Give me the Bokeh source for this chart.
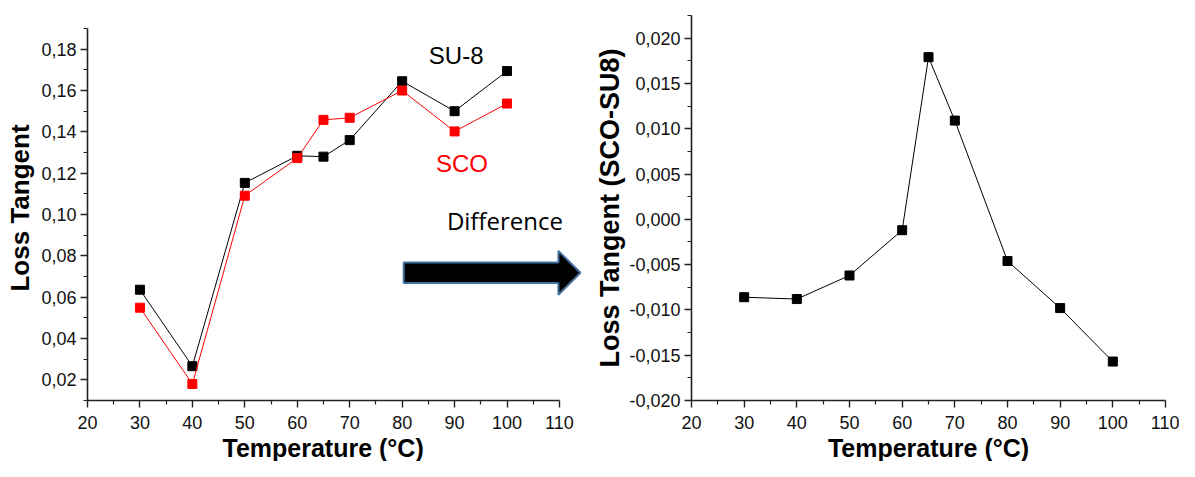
from bokeh.plotting import figure
from bokeh.layouts import row
from bokeh.models import Range1d, FixedTicker, CustomJSTickFormatter, Label, PolyAnnotation, Title
from bokeh.embed import file_html
from bokeh.resources import INLINE

# ---------------- data ----------------
temperature = [30, 40, 50, 60, 65, 70, 80, 90, 100]
su8_loss = [0.0636, 0.0266, 0.1153, 0.1284, 0.1280, 0.1360, 0.1645, 0.1500, 0.1694]
sco_loss = [0.0549, 0.0180, 0.1091, 0.1273, 0.1458, 0.1468, 0.1600, 0.1402, 0.1537]
diff_loss = [-0.0086, -0.0088, -0.0062, -0.0012, 0.0179, 0.0109, -0.0046, -0.0098, -0.0157]

x_ticks = [20, 30, 40, 50, 60, 70, 80, 90, 100, 110]
x_minor = [25, 35, 45, 55, 65, 75, 85, 95, 105]
left_y_ticks = [0.02, 0.04, 0.06, 0.08, 0.10, 0.12, 0.14, 0.16, 0.18]
left_y_minor = [0.01, 0.03, 0.05, 0.07, 0.09, 0.11, 0.13, 0.15, 0.17, 0.19]
right_y_ticks = [-0.020, -0.015, -0.010, -0.005, 0.000, 0.005, 0.010, 0.015, 0.020]
right_y_minor = [-0.0175, -0.0125, -0.0075, -0.0025, 0.0025, 0.0075, 0.0125, 0.0175, 0.0225]

x_label = "Temperature (°C)"
left_y_label = "Loss Tangent"
right_y_label = "Loss Tangent (SCO-SU8)"

FONT = "Liberation Sans"
AXIS_COLOR = "#222222"


def style(p, yticks, yminor, ydigits, ylabel_size):
    p.grid.visible = False
    p.outline_line_color = None
    p.background_fill_color = "white"
    p.border_fill_color = "white"
    p.xaxis.ticker = FixedTicker(ticks=x_ticks, minor_ticks=x_minor)
    p.yaxis.ticker = FixedTicker(ticks=yticks, minor_ticks=yminor)
    p.xaxis.formatter = CustomJSTickFormatter(code="return tick.toFixed(0);")
    p.yaxis.formatter = CustomJSTickFormatter(
        code="return tick.toFixed(%d).replace('.', ',');" % ydigits)
    for ax in (p.xaxis[0], p.yaxis[0]):
        ax.axis_line_color = AXIS_COLOR
        ax.axis_line_width = 1.6
        ax.major_tick_line_color = AXIS_COLOR
        ax.major_tick_line_width = 1.4
        ax.minor_tick_line_color = AXIS_COLOR
        ax.minor_tick_line_width = 1.2
        ax.major_tick_out = 7
        ax.major_tick_in = 0
        ax.minor_tick_out = 4
        ax.minor_tick_in = 0
        ax.major_label_text_font = FONT
        ax.major_label_text_font_size = "18px"
        ax.major_label_text_color = "#111111"
        ax.axis_label_text_font = FONT
        ax.axis_label_text_font_style = "bold"
        ax.axis_label_text_color = "black"
    p.xaxis.major_label_standoff = 8
    p.yaxis.major_label_standoff = 4
    p.yaxis.axis_label_text_font_size = ylabel_size


def bottom_title(p, align, offset):
    p.add_layout(Title(text=x_label, align=align, offset=offset, standoff=0,
                       text_font=FONT, text_font_size="25px", text_font_style="bold",
                       text_color="black"), "below")


# ---------------- left plot ----------------
# the frame reaches beyond the axes (axis bounds limit them) so that the
# arrow and captions, which sit between the two plots, can be drawn in it
p1 = figure(width=592, height=461, x_range=Range1d(20, 116.3), y_range=Range1d(0.01, 0.1963),
            output_backend="svg", toolbar_location=None,
            min_border_left=87, min_border_right=0, min_border_top=15, min_border_bottom=58,
            y_axis_label=left_y_label)
style(p1, left_y_ticks, left_y_minor, 2, "26px")
p1.yaxis.axis_label_standoff = 3
p1.xaxis.bounds = (20, 110)
p1.yaxis.bounds = (0.01, 0.19)
bottom_title(p1, "left", 135)

p1.line(temperature, su8_loss, line_color="black", line_width=1)
p1.scatter(temperature, su8_loss, marker="square", size=9, fill_color="black", line_color="black")
p1.line(temperature, sco_loss, line_color="#ff0000", line_width=1)
p1.scatter(temperature, sco_loss, marker="square", size=9, fill_color="#ff0000", line_color="#ff0000")

p1.add_layout(Label(x=90.3, y=0.1770, text="SU-8", text_align="center", text_baseline="alphabetic",
                    text_font=FONT, text_font_size="24px", text_color="black"))
p1.add_layout(Label(x=91.4, y=0.1248, text="SCO", text_align="center", text_baseline="alphabetic",
                    text_font=FONT, text_font_size="24px", text_color="#ff0000"))
p1.add_layout(Label(x=99.6, y=0.0973, text="Difference", text_align="center", text_baseline="alphabetic",
                    text_font="Open Sans", text_font_size="24px", text_color="black"))

# block arrow (annotation) pointing to the right-hand plot
ax0, ax1, ax2 = 80.3, 109.8, 114.0
ay_c, body_half, head_half = 0.0718, 0.0050, 0.0106
arrow = PolyAnnotation(
    xs=[ax0, ax1, ax1, ax2, ax1, ax1, ax0],
    ys=[ay_c + body_half, ay_c + body_half, ay_c + head_half, ay_c,
        ay_c - head_half, ay_c - body_half, ay_c - body_half],
    fill_color="black", fill_alpha=1.0, line_color="#41719C", line_width=2, line_alpha=1.0)
p1.add_layout(arrow)

# ---------------- right plot ----------------
p2 = figure(width=587, height=461, x_range=Range1d(20, 110), y_range=Range1d(-0.020, 0.0225),
            output_backend="svg", toolbar_location=None,
            min_border_left=99, min_border_right=14, min_border_top=15, min_border_bottom=58,
            y_axis_label=right_y_label)
style(p2, right_y_ticks, right_y_minor, 3, "27px")
p2.yaxis.axis_label_standoff = 1
bottom_title(p2, "center", 0)

p2.line(temperature, diff_loss, line_color="black", line_width=1)
p2.scatter(temperature, diff_loss, marker="square", size=9, fill_color="black", line_color="black")

layout = row(p1, p2, spacing=0)

open("out.html", "w").write(file_html(layout, INLINE))
